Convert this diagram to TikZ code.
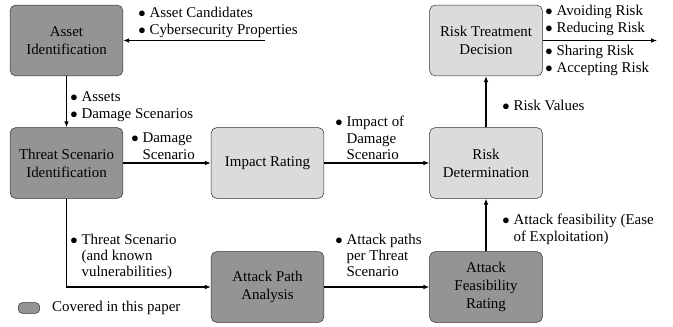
\documentclass[tikz,border=0pt]{standalone}
\usepackage{fontspec}
\setmainfont{Liberation Serif}
\usetikzlibrary{arrows.meta,positioning}

\newcommand{\bitems}[1]{\begin{tabular}[t]{@{}l@{\hspace{3pt}}l@{}}#1\end{tabular}}
\newcommand{\bi}{$\bullet$}
\newcommand{\labfont}{\fontsize{11.2}{12.2}\selectfont}

\tikzset{
  stagebox/.style={draw=black!80, rounded corners=4pt, minimum width=84.5pt,
    minimum height=53pt, align=center, font=\fontsize{11.2}{13.4}\selectfont},
  covered/.style={stagebox, fill=black!42},
  pending/.style={stagebox, fill=black!14},
  flow/.style={-{Latex[length=4.5pt,width=3.5pt]}, line width=0.8pt},
  note/.style={anchor=base west, inner sep=0pt, font=\labfont}
}

\begin{document}
\begin{tikzpicture}[x=0.75pt, y=-0.75pt]
\useasboundingbox (0,0) rectangle (673,327);

% stages
\node[covered] (asset) at (66.5, 40.5) {Asset\\Identification};
\node[covered] (threat) at (66.5, 163) {Threat Scenario\\Identification};
\node[pending] (impact) at (267.5, 163) {Impact Rating};
\node[pending] (riskdet) at (486, 163) {Risk\\Determination};
\node[pending] (treat) at (486, 40.5) {Risk Treatment\\Decision};
\node[covered] (path) at (267.5, 287) {Attack Path\\Analysis};
\node[covered] (feas) at (486, 287) {Attack\\Feasibility\\Rating};

% free ends
\coordinate (inp) at (265, 40.5);
\coordinate (outp) at (657, 40.5);

% connectors
\draw[flow] (inp) -- (asset.east);
\draw[flow] (asset) -- (threat);
\draw[flow] (threat) -- (impact);
\draw[flow] (impact) -- (riskdet);
\draw[flow] (riskdet) -- (treat);
\draw[flow] (treat.east) -- (outp);
\draw[flow] (threat.south) |- (path.west);
\draw[flow] (path) -- (feas);
\draw[flow] (feas) -- (riskdet);

% labels
\node[note] (l1) at (138, 18) {\bitems{\bi & Asset Candidates\\ \bi & Cybersecurity Properties}};
\node[note] (l2) at (70, 102) {\bitems{\bi & Assets\\ \bi & Damage Scenarios}};
\node[note] (l3) at (131, 143) {\bitems{\bi & Damage\\ & Scenario}};
\node[note] (l4) at (335, 127) {\bitems{\bi & Impact of\\ & Damage\\ & Scenario}};
\node[note] (l5) at (502, 111) {\bitems{\bi & Risk Values}};
\node[note] (l6) at (545, 16) {\bitems{\bi & Avoiding Risk\\ \bi & Reducing Risk}};
\node[note] (l7) at (545, 56) {\bitems{\bi & Sharing Risk\\ \bi & Accepting Risk}};
\node[note] (l8) at (70, 244) {\bitems{\bi & Threat Scenario\\ & (and known\\ & vulnerabilities)}};
\node[note] (l9) at (335, 244) {\bitems{\bi & Attack paths\\ & per Threat\\ & Scenario}};
\node[note] (l10) at (502, 225) {\bitems{\bi & Attack feasibility (Ease\\ & of Exploitation)}};

% legend
\node[draw=black!80, fill=black!42, rounded corners=3pt, minimum width=16pt,
  minimum height=8pt, inner sep=0pt] (key) at (29, 308) {};
\node[note, right=9pt of key.east, anchor=west] (keytext) {Covered in this paper};
\end{tikzpicture}
\end{document}
